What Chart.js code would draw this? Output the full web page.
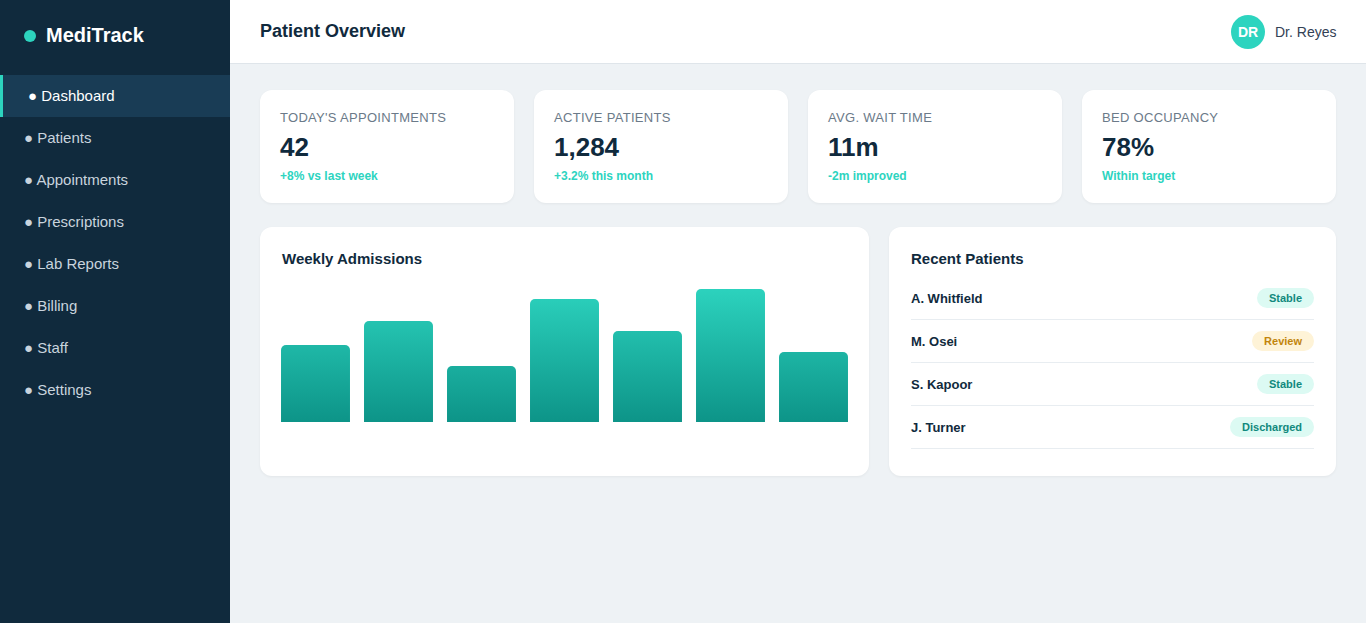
<!DOCTYPE html>
<html><head><meta charset="utf-8">
<script src="https://cdn.jsdelivr.net/npm/chart.js@4"></script>
<style>
*{box-sizing:border-box;margin:0;padding:0}
body{width:1366px;height:623px;overflow:hidden;font-family:"Liberation Sans",Arial,sans-serif;background:#eef2f5;position:relative}
.side{position:absolute;left:0;top:0;width:230px;height:623px;background:#102a3d;color:#c9d4de}
.logo{position:absolute;left:24px;top:24px;font-size:20px;font-weight:bold;color:#fff;display:flex;align-items:center}
.logo i{width:12px;height:12px;border-radius:50%;background:#2dd4bf;display:inline-block;margin-right:10px}
.nav{position:absolute;top:75px;left:0;width:230px}
.nav div{height:42px;line-height:42px;padding-left:24px;font-size:15px}
.nav .act{background:#193c55;color:#fff;border-left:3px solid #2dd4bf;padding-left:25px}
.top{position:absolute;left:230px;top:0;right:0;height:64px;background:#fff;border-bottom:1px solid #dfe5ea}
.top h1{position:absolute;left:30px;top:21px;font-size:18px;color:#102a3d}
.av{position:absolute;left:1001px;top:15px;width:34px;height:34px;border-radius:50%;background:#2dd4bf;color:#fff;font-weight:bold;font-size:14px;text-align:center;line-height:34px}
.user{position:absolute;left:1045px;top:24px;font-size:14px;color:#334155}
.card{position:absolute;background:#fff;border-radius:12px;box-shadow:0 1px 3px rgba(0,0,0,.05)}
.kpi{top:90px;width:254px;height:113px;padding:20px}
.kpi .l{font-size:13px;color:#6b7a89;letter-spacing:.3px}
.kpi .v{font-size:26px;font-weight:bold;color:#102a3d;margin-top:7px}
.kpi .s{font-size:12px;font-weight:bold;color:#2dd4bf;margin-top:6px}
.ct{font-size:15px;font-weight:bold;color:#102a3d}
.row{display:flex;justify-content:space-between;align-items:center;height:43px;border-bottom:1px solid #e8edf1;font-size:13px;font-weight:bold;color:#102a3d}
.b{font-size:11px;padding:4px 12px;border-radius:11px;background:#dcfaf3;color:#11897d}
.b.r{background:#fef3d7;color:#c2850c}
</style></head><body>
<div class="side"><div class="logo"><i></i>MediTrack</div>
<div class="nav"><div class="act">● Dashboard</div><div>● Patients</div><div>● Appointments</div><div>● Prescriptions</div><div>● Lab Reports</div><div>● Billing</div><div>● Staff</div><div>● Settings</div></div></div>
<div class="top"><h1>Patient Overview</h1><div class="av">DR</div><div class="user">Dr. Reyes</div></div>
<div class="card kpi" style="left:260px"><div class="l">TODAY'S APPOINTMENTS</div><div class="v">42</div><div class="s">+8% vs last week</div></div>
<div class="card kpi" style="left:534px"><div class="l">ACTIVE PATIENTS</div><div class="v">1,284</div><div class="s">+3.2% this month</div></div>
<div class="card kpi" style="left:808px"><div class="l">AVG. WAIT TIME</div><div class="v">11m</div><div class="s">-2m improved</div></div>
<div class="card kpi" style="left:1082px"><div class="l">BED OCCUPANCY</div><div class="v">78%</div><div class="s">Within target</div></div>
<div class="card" style="left:260px;top:227px;width:609px;height:249px">
<div class="ct" style="position:absolute;left:22px;top:23px">Weekly Admissions</div>
<div style="position:absolute;left:14px;top:285px;top:58px;width:581px;height:137px"><canvas id="c"></canvas></div>
</div>
<div class="card" style="left:889px;top:227px;width:447px;height:249px;padding:23px 22px">
<div class="ct">Recent Patients</div>
<div style="margin-top:10px">
<div class="row"><span>A. Whitfield</span><span class="b">Stable</span></div>
<div class="row"><span>M. Osei</span><span class="b r">Review</span></div>
<div class="row"><span>S. Kapoor</span><span class="b">Stable</span></div>
<div class="row"><span>J. Turner</span><span class="b">Discharged</span></div>
</div></div>
<script>
const days=["Mon","Tue","Wed","Thu","Fri","Sat","Sun"];
const admissions=[77,101,56,123,91,133,70];
new Chart(document.getElementById('c'),{type:'bar',
data:{labels:days,datasets:[{data:admissions,borderRadius:{topLeft:5,topRight:5},borderSkipped:'bottom',
backgroundColor:(ctx)=>{const a=ctx.chart.chartArea;if(!a)return '#2dd4bf';const g=ctx.chart.ctx.createLinearGradient(0,a.top,0,a.bottom);g.addColorStop(0,'#2dd4bf');g.addColorStop(1,'#0d9488');return g;},
categoryPercentage:1,barPercentage:0.831}]},
options:{responsive:true,maintainAspectRatio:false,animation:false,layout:{padding:0},
plugins:{legend:{display:false},tooltip:{enabled:false}},
scales:{x:{display:false},y:{display:false,min:0,max:137}}}});
</script></body></html>
